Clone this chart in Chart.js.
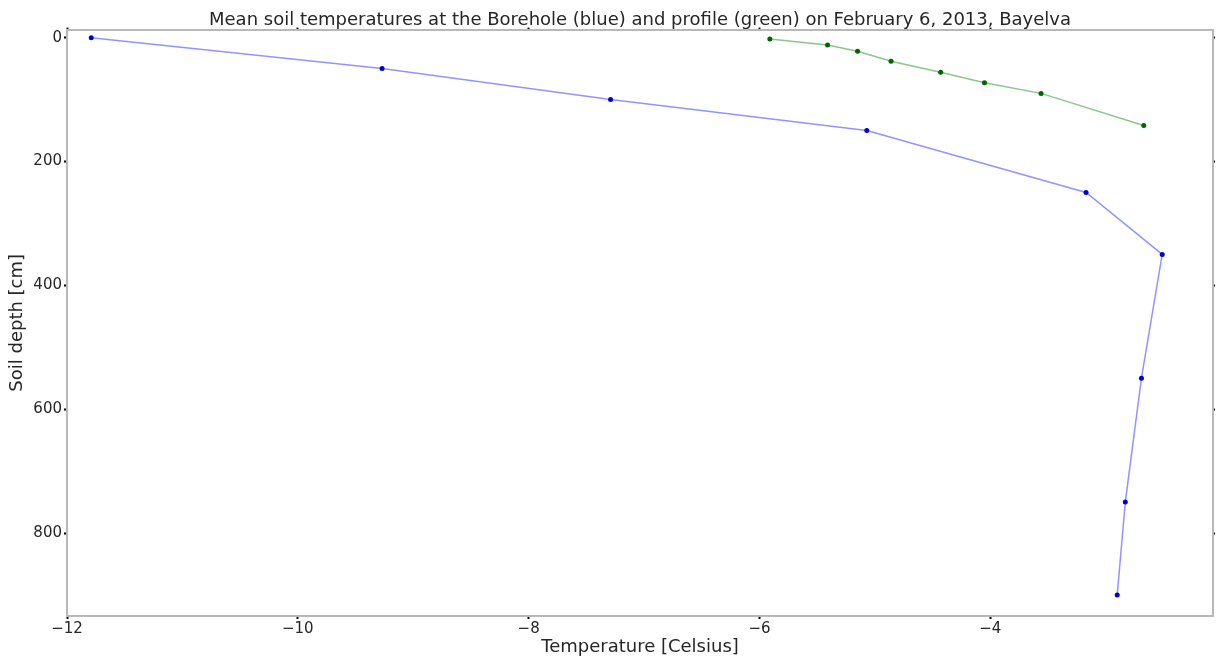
<!DOCTYPE html>
<html>
<head>
<meta charset="utf-8">
<script src="https://cdn.jsdelivr.net/npm/chart.js@4/dist/chart.umd.min.js"></script>
<style>
  html, body { margin: 0; padding: 0; background: #fff; }
  #wrap { width: 1217px; height: 659px; position: relative; }
</style>
</head>
<body>
<div id="wrap"><canvas id="c" width="1217" height="659"></canvas></div>
<script>
// Borehole (blue)
const boreholeTemps  = [-11.79, -9.27, -7.29, -5.07, -3.17, -2.51, -2.69, -2.83, -2.90];
const boreholeDepths = [0, 50, 100, 150, 250, 350, 550, 750, 900];
// Profile (green)
const profileTemps  = [-5.91, -5.41, -5.15, -4.86, -4.43, -4.05, -3.56, -2.67];
const profileDepths = [2, 12, 22, 38, 56, 73, 90, 142];

const xTicks = [-12, -10, -8, -6, -4];
const yTicks = [0, 200, 400, 600, 800];

const titleText = 'Mean soil temperatures at the Borehole (blue) and profile (green) on February 6, 2013, Bayelva';

function pts(xs, ys) { return xs.map((x, i) => ({ x: x, y: ys[i] })); }
const fmt = v => String(v).replace('-', '\u2212');

const FONT = 'DejaVu Sans';
const TXT = '#262626';
const FRAME = '#b8b8b8';

Chart.defaults.font.family = FONT;
Chart.defaults.color = TXT;

new Chart(document.getElementById('c'), {
  type: 'scatter',
  data: {
    datasets: [
      {
        label: 'Borehole',
        data: pts(boreholeTemps, boreholeDepths),
        showLine: true,
        borderColor: 'rgba(120,120,255,0.8)',
        borderWidth: 1.5,
        pointBackgroundColor: '#0000c8',
        pointBorderColor: '#0000c8',
        pointRadius: 2.5,
        pointBorderWidth: 0
      },
      {
        label: 'Profile',
        data: pts(profileTemps, profileDepths),
        showLine: true,
        borderColor: 'rgba(110,185,110,0.8)',
        borderWidth: 1.5,
        pointBackgroundColor: '#006400',
        pointBorderColor: '#006400',
        pointRadius: 2.5,
        pointBorderWidth: 0
      }
    ]
  },
  options: {
    responsive: false,
    animation: false,
    layout: { padding: { left: 0, right: 3, top: 0, bottom: 0 } },
    plugins: {
      legend: { display: false },
      tooltip: { enabled: false },
      title: {
        display: true,
        fullSize: false,
        text: titleText,
        color: TXT,
        font: { family: FONT, size: 18, weight: 'normal' },
        padding: { top: 10, bottom: -2 }
      }
    },
    scales: {
      x: {
        type: 'linear',
        position: 'bottom',
        min: -12,
        max: -2.07,
        afterFit: s => { s.height = 43; },
        afterBuildTicks: s => { s.ticks = xTicks.map(v => ({ value: v })); },
        ticks: {
          callback: v => fmt(v),
          font: { family: FONT, size: 15 },
          color: TXT,
          padding: 1,
          maxRotation: 0
        },
        grid: { drawOnChartArea: false, drawTicks: true, tickLength: 3, tickColor: '#000', tickWidth: 2 },
        border: { color: FRAME, width: 2 },
        title: {
          display: true,
          text: 'Temperature [Celsius]',
          color: TXT,
          font: { family: FONT, size: 18 },
          padding: { top: 0, bottom: 1 }
        }
      },
      x2: {
        type: 'linear',
        position: 'top',
        min: -12,
        max: -2.07,
        afterFit: s => { s.height = 0; },
        afterBuildTicks: s => { s.ticks = xTicks.map(v => ({ value: v })); },
        ticks: { display: false },
        grid: { drawOnChartArea: false, drawTicks: true, tickLength: 2, tickColor: '#000', tickWidth: 2 },
        border: { color: FRAME, width: 2 }
      },
      y: {
        type: 'linear',
        position: 'left',
        reverse: true,
        min: -13,
        max: 934,
        afterFit: s => { s.width = 67; },
        afterBuildTicks: s => { s.ticks = yTicks.map(v => ({ value: v })); },
        ticks: {
          callback: v => fmt(v),
          font: { family: FONT, size: 15 },
          color: TXT,
          padding: 2
        },
        grid: { drawOnChartArea: false, drawTicks: true, tickLength: 3, tickColor: '#000', tickWidth: 2 },
        border: { color: FRAME, width: 2 },
        title: {
          display: true,
          text: 'Soil depth [cm]',
          color: TXT,
          font: { family: FONT, size: 18 },
          padding: { top: 7, bottom: 0 }
        }
      },
      y2: {
        type: 'linear',
        position: 'right',
        reverse: true,
        min: -13,
        max: 934,
        afterFit: s => { s.width = 0; },
        afterBuildTicks: s => { s.ticks = yTicks.map(v => ({ value: v })); },
        ticks: { display: false },
        grid: { drawOnChartArea: false, drawTicks: true, tickLength: 2, tickColor: '#000', tickWidth: 2 },
        border: { color: FRAME, width: 2 }
      }
    }
  }
});
</script>
</body>
</html>
